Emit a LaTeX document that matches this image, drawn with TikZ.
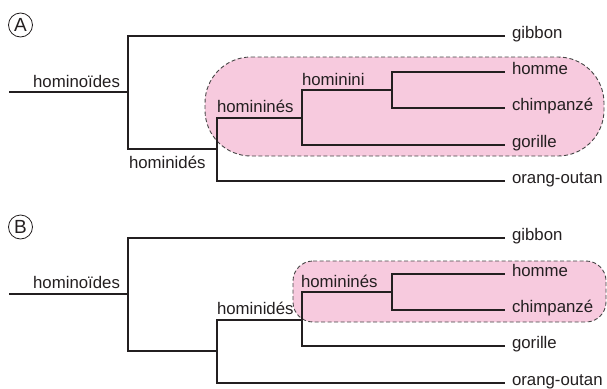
\documentclass[tikz,border=0pt]{standalone}
\usepackage{fontspec}
\setmainfont{Liberation Sans}
\definecolor{ink}{RGB}{35,31,32}
\definecolor{pinkfill}{RGB}{247,202,222}
\definecolor{dashgrey}{RGB}{70,70,70}
\begin{document}
\begin{tikzpicture}[x=1pt,y=-1pt,
  every node/.style={inner sep=0pt,outer sep=0pt,text=ink,font=\fontsize{16.8}{19}\selectfont},
  branch/.style={draw=ink,line width=1.1pt},
  leaf/.style={anchor=mid west},
  lbl/.style={anchor=base west},
  clade/.style={fill=pinkfill,draw=dashgrey,line width=0.9pt,dash pattern=on 4pt off 2.5pt},
  panel/.style={circle,draw=ink,line width=0.8pt,minimum size=24pt,font=\fontsize{19}{20}\selectfont}
]
\useasboundingbox (0,0) rectangle (607,388);

% ---------- Panel A ----------
\node[panel] (pA) at (20.5,25) {A};
\path[clade] (205,57) [rounded corners=46pt] -- (604,57) -- (604,156) -- (205,156) -- cycle;

\node[leaf] (gibbonA) at (512,36) {gibbon};
\node[leaf] (hommeA) at (512,72) {homme};
\node[leaf] (chimpA) at (512,108) {chimpanzé};
\node[leaf] (gorilleA) at (512,145) {gorille};
\node[leaf] (orangA) at (512,181) {orang-outan};

\coordinate (a0) at (9,92);
\coordinate (a1) at (128,92);
\coordinate (a2) at (217,149);
\coordinate (a3) at (302,118);
\coordinate (a4) at (392,90);

\draw[branch] (a0) -- (a1);
\draw[branch] (a1) |- ([xshift=-7pt]gibbonA.mid west);
\draw[branch] (a1) |- (a2);
\draw[branch] (a2) |- (a3);
\draw[branch] (a2) |- ([xshift=-7pt]orangA.mid west);
\draw[branch] (a3) |- (a4);
\draw[branch] (a3) |- ([xshift=-7pt]gorilleA.mid west);
\draw[branch] (a4) |- ([xshift=-7pt]hommeA.mid west);
\draw[branch] (a4) |- ([xshift=-7pt]chimpA.mid west);

\node[anchor=base east] (hoidA) at (120,87) {hominoïdes};
\node[lbl] (hidA) at (129,168) {hominidés};
\node[lbl] (hinA) at (217,112) {homininés};
\node[lbl] (hiniA) at (302,85) {hominini};

% ---------- Panel B ----------
\node[panel] (pB) at (20.5,227) {B};
\path[clade] (293,261) [rounded corners=20pt] -- (606,261) -- (606,322) -- (293,322) -- cycle;

\node[leaf] (gibbonB) at (512,238) {gibbon};
\node[leaf] (hommeB) at (512,274) {homme};
\node[leaf] (chimpB) at (512,310) {chimpanzé};
\node[leaf] (gorilleB) at (512,346) {gorille};
\node[leaf] (orangB) at (512,383) {orang-outan};

\coordinate (b0) at (9,294);
\coordinate (b1) at (128,294);
\coordinate (b2) at (217,351);
\coordinate (b3) at (302,320);
\coordinate (b4) at (392,292);

\draw[branch] (b0) -- (b1);
\draw[branch] (b1) |- ([xshift=-7pt]gibbonB.mid west);
\draw[branch] (b1) |- (b2);
\draw[branch] (b2) |- (b3);
\draw[branch] (b2) |- ([xshift=-7pt]orangB.mid west);
\draw[branch] (b3) |- (b4);
\draw[branch] (b3) |- ([xshift=-7pt]gorilleB.mid west);
\draw[branch] (b4) |- ([xshift=-7pt]hommeB.mid west);
\draw[branch] (b4) |- ([xshift=-7pt]chimpB.mid west);

\node[anchor=base east] (hoidB) at (120,288) {hominoïdes};
\node[lbl] (hidB) at (217,314) {hominidés};
\node[lbl] (hinB) at (301,287) {homininés};
\end{tikzpicture}
\end{document}
